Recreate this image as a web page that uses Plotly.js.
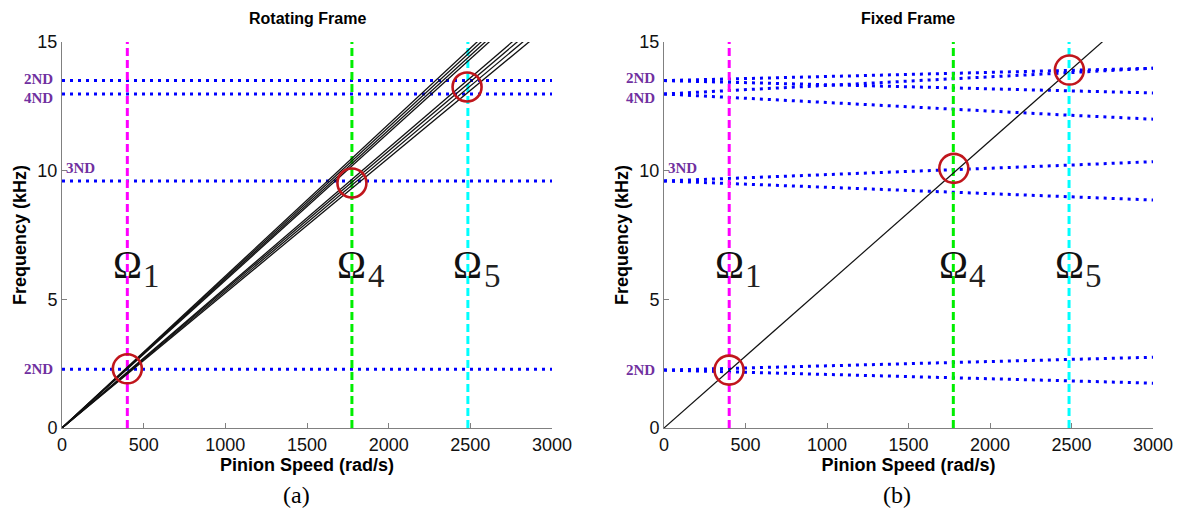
<!DOCTYPE html>
<html>
<head>
<meta charset="utf-8">
<script src="https://cdn.plot.ly/plotly-3.0.1.min.js"></script>
<style>html,body{margin:0;padding:0;background:#fff;}#chart{width:1181px;height:513px;}</style>
</head>
<body>
<div id="chart"></div>
<script>
// ---------- data ----------
const speedGrid = [0, 500, 1000, 1500, 2000, 2500, 3000];      // rad/s
const excSpeed  = [0, 3000];                                     // rad/s

// Rotating frame: natural frequencies (kHz), constant with speed
const rot2NDhigh = [13.5, 13.5, 13.5, 13.5, 13.5, 13.5, 13.5];
const rot4ND     = [12.98, 12.98, 12.98, 12.98, 12.98, 12.98, 12.98];
const rot3ND     = [9.6, 9.6, 9.6, 9.6, 9.6, 9.6, 9.6];
const rot2NDlow  = [2.28, 2.28, 2.28, 2.28, 2.28, 2.28, 2.28];

// Rotating frame: excitation lines (kHz at 0 and 3000 rad/s)
const rotExcLines = [
  [0, 17.71], [0, 17.54], [0, 17.37], [0, 17.21],
  [0, 16.33], [0, 16.15], [0, 15.95], [0, 15.74]
];

// Fixed frame: split natural frequencies (kHz)
const fix2NDhighUp  = [13.5, 13.58, 13.66, 13.74, 13.82, 13.9, 13.98];
const fix2NDhighLow = [13.5, 13.42, 13.34, 13.26, 13.18, 13.1, 13.02];
const fix4NDUp      = [12.98, 13.15, 13.31, 13.48, 13.65, 13.81, 13.98];
const fix4NDLow     = [12.98, 12.81, 12.65, 12.48, 12.31, 12.15, 12.0];
const fix3NDUp      = [9.6, 9.72, 9.85, 9.97, 10.1, 10.22, 10.35];
const fix3NDLow     = [9.6, 9.48, 9.35, 9.23, 9.1, 8.98, 8.86];
const fix2NDlowUp   = [2.25, 2.33, 2.42, 2.5, 2.58, 2.67, 2.75];
const fix2NDlowLow  = [2.25, 2.17, 2.08, 2.0, 1.92, 1.83, 1.74];

// Fixed frame: excitation line (kHz at 0 and 3000 rad/s)
const fixExcLine = [0, 16.74];

// Critical speeds and their labels
const omegaSpeeds = [400, 1775, 2485];
const omegaNames  = ['1', '4', '5'];
const omegaColors = ['#ff00ff', '#00ee00', '#00ffff'];
const freqSpan    = [0, 15];

// Resonance circles
const rotCircleX = [400, 1775, 2480];
const rotCircleY = [2.3, 9.52, 13.25];
const fixCircleX = [399, 1778, 2487];
const fixCircleY = [2.25, 10.09, 13.91];

// Mode labels
const rotModeLabels = [
  {t: '2ND', y: 13.58, side: 'out'}, {t: '4ND', y: 12.83, side: 'out'},
  {t: '3ND', y: 10.1, side: 'in'},   {t: '2ND', y: 2.29, side: 'out'}
];
const fixModeLabels = [
  {t: '2ND', y: 13.62, side: 'out'}, {t: '4ND', y: 12.83, side: 'out'},
  {t: '3ND', y: 10.1, side: 'in'},   {t: '2ND', y: 2.25, side: 'out'}
];

const speedTicks = [0, 500, 1000, 1500, 2000, 2500, 3000];
const freqTicks  = [0, 5, 10, 15];

// ---------- traces ----------
const traces = [];
const dotted = {color: '#0000ff', width: 3, dash: '3px,5px'};

function addDotted(xa, ya, ys) {
  traces.push({x: speedGrid, y: ys, xaxis: xa, yaxis: ya, mode: 'lines',
               line: dotted, hoverinfo: 'skip'});
}
function addOmegaLines(xa, ya) {
  omegaSpeeds.forEach((s, i) => {
    traces.push({x: [s, s], y: freqSpan, xaxis: xa, yaxis: ya, mode: 'lines',
                 line: {color: omegaColors[i], width: 3, dash: '8px,4px'}, hoverinfo: 'skip'});
  });
}

// left panel
[rot2NDhigh, rot4ND, rot3ND, rot2NDlow].forEach(ys => addDotted('x', 'y', ys));
addOmegaLines('x', 'y');
rotExcLines.forEach(ys => traces.push({x: excSpeed, y: ys, xaxis: 'x', yaxis: 'y', mode: 'lines',
  line: {color: '#111', width: 1.3}, hoverinfo: 'skip'}));
traces.push({x: rotCircleX, y: rotCircleY, xaxis: 'x', yaxis: 'y', mode: 'markers',
  marker: {symbol: 'circle-open', size: 29, color: '#c0161c', line: {width: 2.6, color: '#c0161c'}}});

// right panel
[fix2NDhighUp, fix2NDhighLow, fix4NDUp, fix4NDLow, fix3NDUp, fix3NDLow, fix2NDlowUp, fix2NDlowLow]
  .forEach(ys => addDotted('x2', 'y2', ys));
addOmegaLines('x2', 'y2');
traces.push({x: excSpeed, y: fixExcLine, xaxis: 'x2', yaxis: 'y2', mode: 'lines',
  line: {color: '#111', width: 1.2}, hoverinfo: 'skip'});
traces.push({x: fixCircleX, y: fixCircleY, xaxis: 'x2', yaxis: 'y2', mode: 'markers',
  marker: {symbol: 'circle-open', size: 29, color: '#c0161c', line: {width: 2.6, color: '#c0161c'}}});

// ---------- annotations ----------
const annotations = [];
const modeFont = {family: 'Liberation Serif', size: 15, color: '#7030a0'};
function addModeLabels(labels, xa, ya) {
  labels.forEach(l => {
    annotations.push({xref: xa, yref: ya, x: 0, y: l.y, text: '<b>' + l.t + '</b>',
      showarrow: false, font: modeFont,
      xanchor: l.side === 'out' ? 'right' : 'left', xshift: l.side === 'out' ? -7 : 2, yanchor: 'middle'});
  });
}
addModeLabels(rotModeLabels, 'x', 'y');
addModeLabels(fixModeLabels, 'x2', 'y2');

function addOmegaLabels(xa, ya) {
  omegaSpeeds.forEach((s, i) => {
    annotations.push({xref: xa, yref: ya, x: s, y: 6.35, text: 'Ω',
      showarrow: false, xanchor: 'center', yanchor: 'middle',
      font: {family: 'Liberation Serif', size: 39, color: '#111'}});
    annotations.push({xref: xa, yref: ya, x: s, y: 5.9, text: omegaNames[i],
      showarrow: false, xanchor: 'left', xshift: 14, yanchor: 'middle',
      font: {family: 'Liberation Serif', size: 33, color: '#222'}});
  });
}
addOmegaLabels('x', 'y');
addOmegaLabels('x2', 'y2');

const titleFont = {family: 'Liberation Sans', size: 16, color: '#000'};
annotations.push({xref: 'paper', yref: 'paper', x: 307 / 1181, y: 1 - 18 / 513, text: '<b>Rotating Frame</b>',
  showarrow: false, xanchor: 'center', yanchor: 'middle', font: titleFont});
annotations.push({xref: 'paper', yref: 'paper', x: 908 / 1181, y: 1 - 18 / 513, text: '<b>Fixed Frame</b>',
  showarrow: false, xanchor: 'center', yanchor: 'middle', font: titleFont});
const capFont = {family: 'Liberation Serif', size: 24, color: '#000'};
annotations.push({xref: 'paper', yref: 'paper', x: 296 / 1181, y: 1 - 495 / 513, text: '(a)',
  showarrow: false, xanchor: 'center', yanchor: 'middle', font: capFont});
annotations.push({xref: 'paper', yref: 'paper', x: 897 / 1181, y: 1 - 495 / 513, text: '(b)',
  showarrow: false, xanchor: 'center', yanchor: 'middle', font: capFont});

// ---------- axes ----------
const tickFont = {family: 'Liberation Sans', size: 18, color: '#111'};
const axTitleFont = {family: 'Liberation Sans', size: 18, color: '#000'};
function xAxis(domain, anchor) {
  return {domain: domain, anchor: anchor, range: [0, 3000], tickvals: speedTicks,
    ticks: 'inside', ticklen: 5, tickcolor: '#808080', showline: true, linecolor: '#808080', linewidth: 1,
    showgrid: false, zeroline: false, tickfont: tickFont, fixedrange: true,
    title: {text: '<b>Pinion Speed (rad/s)</b>', font: axTitleFont, standoff: 3}};
}
function yAxis(anchor) {
  return {domain: [85 / 513, 471 / 513], anchor: anchor, range: [0, 15], tickvals: freqTicks,
    ticks: 'inside', ticklen: 5, tickcolor: '#808080', showline: true, linecolor: '#808080', linewidth: 1,
    showgrid: false, zeroline: false, tickfont: tickFont, fixedrange: true,
    title: {text: '<b>Frequency (kHz)</b>', font: axTitleFont, standoff: 6}};
}

const layout = {
  width: 1181, height: 513,
  margin: {l: 0, r: 0, t: 0, b: 0},
  paper_bgcolor: '#fff', plot_bgcolor: '#fff',
  showlegend: false,
  xaxis: xAxis([62 / 1181, 552 / 1181], 'y'),
  yaxis: yAxis('x'),
  xaxis2: xAxis([664 / 1181, 1153 / 1181], 'y2'),
  yaxis2: yAxis('x2'),
  annotations: annotations
};

Plotly.newPlot('chart', traces, layout, {staticPlot: true, displayModeBar: false});
</script>
</body>
</html>
